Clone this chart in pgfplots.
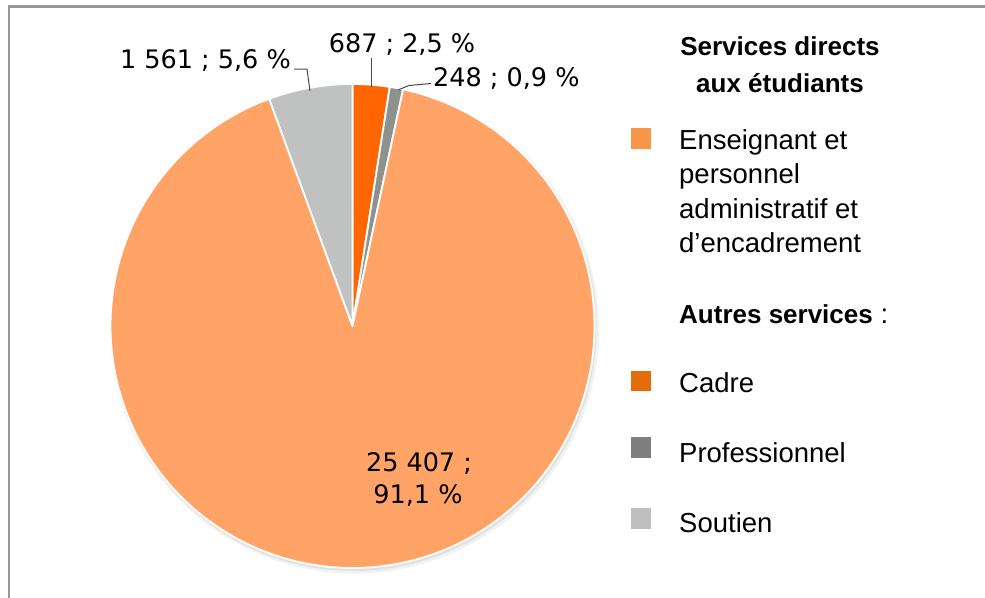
\documentclass[border=0pt]{standalone}
\usepackage{pgfplots}
\usepackage{pgfplotstable}
\pgfplotsset{compat=1.18}
\usepackage{fontspec}
\setmainfont{Liberation Sans}
\newfontfamily\labfont{DejaVu Sans}
\definecolor{sEns}{HTML}{FFA366}
\definecolor{sCad}{HTML}{FF6600}
\definecolor{sPro}{HTML}{8D928F}
\definecolor{sSou}{HTML}{C0C2C1}
\definecolor{lEns}{HTML}{F79646}
\definecolor{lCad}{HTML}{E46C0A}
\definecolor{lPro}{HTML}{7F7F7F}
\definecolor{lSou}{HTML}{BFBFBF}
\definecolor{frame}{HTML}{959A97}
\definecolor{leader}{HTML}{4A4A4A}

\pgfplotstableread{
name value
Cadre 687
Professionnel 248
Enseignant 25407
Soutien 1561
}\piedata

\begin{document}
\begin{tikzpicture}[x=1pt,y=1pt]
\useasboundingbox (0,0) rectangle (985,-597);
\draw[color=frame, line width=2.5pt] (9,-610) -- (9,-6.5) -- (995,-6.5);

\pgfplotstablegetelem{0}{value}\of\piedata \let\vA\pgfplotsretval
\pgfplotstablegetelem{1}{value}\of\piedata \let\vB\pgfplotsretval
\pgfplotstablegetelem{2}{value}\of\piedata \let\vC\pgfplotsretval
\pgfplotstablegetelem{3}{value}\of\piedata \let\vD\pgfplotsretval
\edef\tot{\fpeval{\vA+\vB+\vC+\vD}}
\edef\aA{90}
\edef\aB{\fpeval{round(\aA-\vA/\tot*360,4)}}
\edef\aC{\fpeval{round(\aB-\vB/\tot*360,4)}}
\edef\aD{\fpeval{round(\aC-\vC/\tot*360,4)}}
\edef\aE{\fpeval{round(\aD-\vD/\tot*360,4)}}

% soft shadow
\fill[black, opacity=0.05] (354.5,-329) circle (244.5);
\fill[black, opacity=0.07] (353.5,-328) circle (243);

\begin{axis}[at={(352.5pt,-326pt)}, anchor=center,
  scale only axis, width=484pt, height=484pt,
  xmin=-1, xmax=1, ymin=-1, ymax=1,
  hide axis, clip=false]
\addplot[fill=sCad, draw=white, line width=1.8pt, line join=round, domain=\aB:\aA, samples=20, variable=\t]
  ({cos(\t)},{sin(\t)}) -- (axis cs:0,0) -- cycle;
\addplot[fill=sPro, draw=white, line width=1.8pt, line join=round, domain=\aC:\aB, samples=10, variable=\t]
  ({cos(\t)},{sin(\t)}) -- (axis cs:0,0) -- cycle;
\addplot[fill=sEns, draw=white, line width=1.8pt, line join=round, domain=\aD:\aC, samples=200, variable=\t]
  ({cos(\t)},{sin(\t)}) -- (axis cs:0,0) -- cycle;
\addplot[fill=sSou, draw=white, line width=1.8pt, line join=round, domain=\aE:\aD, samples=25, variable=\t]
  ({cos(\t)},{sin(\t)}) -- (axis cs:0,0) -- cycle;
\end{axis}

% data labels
\begin{scope}[every node/.style={inner sep=0pt, font=\labfont\fontsize{25.5}{30}\selectfont}]
\node[anchor=base east] at (291,-68) {1 561 ; 5,6 \%};
\node[anchor=base] at (402,-52) {687 ; 2,5 \%};
\node[anchor=base west] at (433,-86) {248 ; 0,9 \%};
\node[anchor=base] at (419,-471) {25 407 ;};
\node[anchor=base] at (418,-503) {91,1 \%};
\end{scope}
\draw[leader, line width=1pt] (294,-69) -- (307,-69) -- (310,-91);
\draw[leader, line width=1pt] (371,-58) -- (371,-87);
\draw[leader, line width=1pt] (431,-83.5) -- (409,-85.5) -- (398,-90);

% legend
\begin{scope}[every node/.style={inner sep=0pt, font=\fontsize{27.5}{34}\selectfont}]
\node[anchor=base, font=\fontsize{26}{34}\selectfont\bfseries] at (780,-55) {Services directs};
\node[anchor=base, font=\fontsize{26}{34}\selectfont\bfseries] at (780,-92) {aux étudiants};
\fill[lEns] (631,-128) rectangle (651,-149);
\node[anchor=base west] at (679,-149) {Enseignant et};
\node[anchor=base west] at (679,-183.5) {personnel};
\node[anchor=base west] at (679,-218) {administratif et};
\node[anchor=base west] at (679,-252) {d’encadrement};
\node[anchor=base west] at (679,-323) {{\fontsize{26}{34}\selectfont\bfseries Autres services} :};
\fill[lCad] (631,-371) rectangle (651,-391);
\node[anchor=base west] at (679,-392) {Cadre};
\fill[lPro] (631,-437) rectangle (651,-458);
\node[anchor=base west] at (679,-462) {Professionnel};
\fill[lSou] (631,-508) rectangle (651,-529);
\node[anchor=base west] at (679,-532) {Soutien};
\end{scope}
\end{tikzpicture}
\end{document}
